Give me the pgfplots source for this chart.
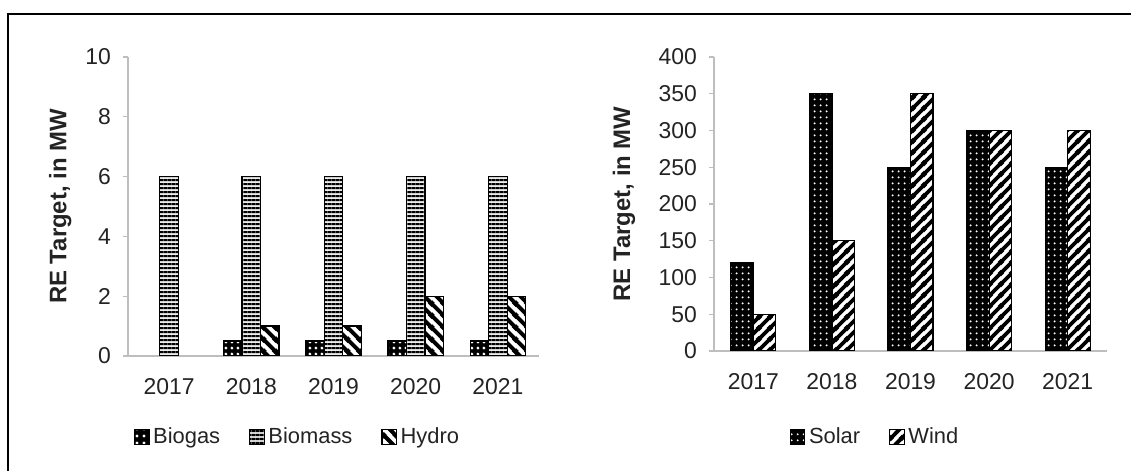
\documentclass[border=0pt]{standalone}
\usepackage{fontspec}
\setmainfont{Liberation Sans}
\usepackage{pgfplots}
\pgfplotsset{compat=1.18}
\usetikzlibrary{patterns}

% horizontal lines (Biomass)
\pgfdeclarepatternformonly{hdense}{\pgfpoint{0bp}{0bp}}{\pgfpoint{2bp}{1.9bp}}{\pgfpoint{2bp}{1.9bp}}{%
  \pgfsetlinewidth{1.1bp}\pgfpathmoveto{\pgfpoint{-0.2bp}{0.95bp}}\pgfpathlineto{\pgfpoint{2.2bp}{0.95bp}}\pgfusepath{stroke}}
% thick "\" lines (Hydro)
\pgfdeclarepatternformonly{nwthick}{\pgfpoint{0bp}{0bp}}{\pgfpoint{6bp}{6bp}}{\pgfpoint{6bp}{6bp}}{%
  \pgfsetlinewidth{2.1bp}%
  \pgfpathmoveto{\pgfpoint{-1bp}{7bp}}\pgfpathlineto{\pgfpoint{7bp}{-1bp}}%
  \pgfpathmoveto{\pgfpoint{-1bp}{1bp}}\pgfpathlineto{\pgfpoint{1bp}{-1bp}}%
  \pgfpathmoveto{\pgfpoint{5bp}{7bp}}\pgfpathlineto{\pgfpoint{7bp}{5bp}}%
  \pgfusepath{stroke}}
% thick "/" lines (Wind)
\pgfdeclarepatternformonly{nethick}{\pgfpoint{0bp}{0bp}}{\pgfpoint{5.5bp}{5.5bp}}{\pgfpoint{5.5bp}{5.5bp}}{%
  \pgfsetlinewidth{2bp}%
  \pgfpathmoveto{\pgfpoint{-1bp}{-1bp}}\pgfpathlineto{\pgfpoint{6.5bp}{6.5bp}}%
  \pgfpathmoveto{\pgfpoint{-1bp}{4.5bp}}\pgfpathlineto{\pgfpoint{1bp}{6.5bp}}%
  \pgfpathmoveto{\pgfpoint{4.5bp}{-1bp}}\pgfpathlineto{\pgfpoint{6.5bp}{1bp}}%
  \pgfusepath{stroke}}
% big dots (Biogas)
\pgfdeclarepatternformonly{bigdots}{\pgfpoint{0bp}{0bp}}{\pgfpoint{3.2bp}{3.2bp}}{\pgfpoint{3.2bp}{3.2bp}}{%
  \pgfpathcircle{\pgfpoint{1.6bp}{1.6bp}}{0.85bp}\pgfusepath{fill}}
% small dots (Solar)
\pgfdeclarepatternformonly{smalldots}{\pgfpoint{0bp}{0bp}}{\pgfpoint{2.8bp}{2.8bp}}{\pgfpoint{2.8bp}{2.8bp}}{%
  \pgfpathcircle{\pgfpoint{1.4bp}{1.4bp}}{0.55bp}\pgfusepath{fill}}

\definecolor{axgray}{RGB}{190,190,190}
\definecolor{txt}{RGB}{35,35,35}

\pgfplotsset{
  rechart/.style={
    scale only axis,
    anchor=south west,
    axis x line*=bottom,
    axis y line*=left,
    axis line style={axgray, line width=0.6bp},
    every tick label/.append style={font=\fontsize{11.5}{13}\selectfont, text=txt},
    /pgf/number format/assume math mode=true,
    xmin=-0.5, xmax=4.5,
    xtick={0,1,2,3,4},
    xticklabels={2017,2018,2019,2020,2021},
    xtick style={draw=none},
    ytick style={axgray, line width=0.6bp},
    tick align=outside,
    major tick length=2.5bp,
    xticklabel style={yshift=-5bp},
    yticklabel style={xshift=-2.5bp},
    ymin=0,
    ybar=0pt,
    legend columns=-1,
    legend style={draw=none, fill=none, inner sep=0pt, outer sep=0pt,
      font=\fontsize{11}{13}\selectfont, text=txt,
      nodes={inner sep=0pt},
      /tikz/every odd column/.style={column sep=1.8bp},
      /tikz/every even column/.style={column sep=14.5bp}},
    legend image code/.code={\draw[##1, line width=0.6bp] (0bp,-3.6bp) rectangle (7.2bp,3.6bp);},
  },
}

\begin{document}
\begin{tikzpicture}
\path[use as bounding box] (0bp,0bp) rectangle (565.5bp,235.5bp);
\draw[line width=0.8bp, black] (4bp,0bp) -- (4bp,228.5bp) -- (565.5bp,228.5bp);

% ---------- left chart ----------
\begin{axis}[rechart,
  at={(64bp,57.5bp)},
  width=205.5bp, height=149.5bp,
  ymax=10, ytick={0,2,4,6,8,10},
  bar width=9.25bp,
  ylabel={RE Target, in MW},
  ylabel style={at={(axis description cs:-0.165,0.5)}, rotate=0, anchor=center,
    font=\bfseries\fontsize{12}{14}\selectfont, text=txt},
  legend style={at={(axis description cs:0.0146,-0.271)}, anchor=west},
]
\addplot[draw=black, line width=0.6bp, preaction={fill=white}, pattern=bigdots, pattern color=white, preaction={fill=black}]
  coordinates {(1,0.5) (2,0.5) (3,0.5) (4,0.5)};
\addplot[draw=black, line width=0.6bp, preaction={fill=gray!15}, pattern=hdense, pattern color=black]
  coordinates {(0,6) (1,6) (2,6) (3,6) (4,6)};
\addplot[draw=black, line width=0.6bp, preaction={fill=white}, pattern=nwthick, pattern color=black]
  coordinates {(1,1) (2,1) (3,2) (4,2)};
\legend{Biogas,Biomass,Hydro}
\end{axis}

% ---------- right chart ----------
\begin{axis}[rechart,
  at={(357bp,60bp)},
  width=196.5bp, height=147bp,
  ymax=400, ytick={0,50,100,150,200,250,300,350,400},
  bar width=11.25bp,
  ylabel={RE Target, in MW},
  ylabel style={at={(axis description cs:-0.229,0.5)}, rotate=0, anchor=center,
    font=\bfseries\fontsize{12}{14}\selectfont, text=txt},
  legend style={at={(axis description cs:0.193,-0.2925)}, anchor=west},
]
\addplot[draw=black, line width=0.6bp, preaction={fill=black}, pattern=smalldots, pattern color=white]
  coordinates {(0,120) (1,350) (2,250) (3,300) (4,250)};
\addplot[draw=black, line width=0.6bp, preaction={fill=white}, pattern=nethick, pattern color=black]
  coordinates {(0,50) (1,150) (2,350) (3,300) (4,300)};
\legend{Solar,Wind}
\end{axis}
\end{tikzpicture}
\end{document}
